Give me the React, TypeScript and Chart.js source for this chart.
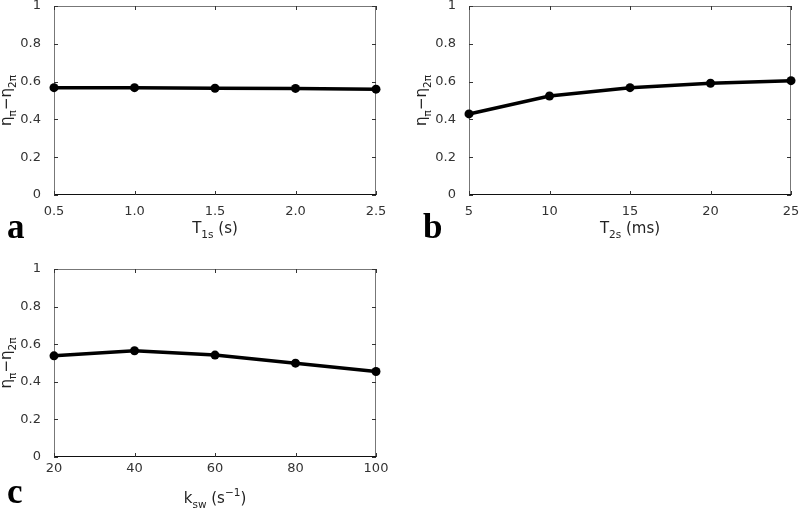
import React, { useEffect, useRef } from "react";
import { Chart, registerables } from "chart.js";
Chart.register(...registerables);

// ---- data ----
const aX = [0.5, 1.0, 1.5, 2.0, 2.5];
const aY = [0.568, 0.568, 0.565, 0.564, 0.56];
const bX = [5, 10, 15, 20, 25];
const bY = [0.429, 0.524, 0.568, 0.591, 0.605];
const cX = [20, 40, 60, 80, 100];
const cY = [0.538, 0.565, 0.542, 0.499, 0.455];
const yTickValues = [0, 0.2, 0.4, 0.6, 0.8, 1];
const yTickLabels = ["0", "0.2", "0.4", "0.6", "0.8", "1"];

type Part = { t: string; sub?: boolean; sup?: boolean };

const FONT = "'DejaVu Sans', 'Liberation Sans', Arial, sans-serif";

function partsWidth(ctx: CanvasRenderingContext2D, parts: Part[], size: number) {
  let w = 0;
  for (const p of parts) {
    const s = p.sub || p.sup ? size * 0.7 : size;
    ctx.font = `${s}px ${FONT}`;
    w += ctx.measureText(p.t).width;
  }
  return w;
}

function drawParts(ctx: CanvasRenderingContext2D, parts: Part[], x: number, y: number, size: number) {
  const w = partsWidth(ctx, parts, size);
  let cx = x - w / 2;
  ctx.textAlign = "left";
  ctx.textBaseline = "alphabetic";
  for (const p of parts) {
    const s = p.sub || p.sup ? size * 0.7 : size;
    ctx.font = `${s}px ${FONT}`;
    const dy = p.sub ? size * 0.35 : p.sup ? -size * 0.45 : 0;
    ctx.fillText(p.t, cx, y + dy);
    cx += ctx.measureText(p.t).width;
  }
}

const yTitle: Part[] = [
  { t: "η" },
  { t: "π", sub: true },
  { t: "−η" },
  { t: "2π", sub: true },
];

type PanelCfg = {
  xs: number[];
  ys: number[];
  xmin: number;
  xmax: number;
  step: number;
  decimals: number;
  xTitle: Part[];
  letter: string;
  left: number;
  top: number;
  width: number;
  height: number;
  yWidth: number;
  padTop: number;
  padRight: number;
  xHeight: number;
  xTickPad: number;
  xTitleOffset: number;
  letterX: number;
  letterY: number;
};

const panels: PanelCfg[] = [
  {
    xs: aX, ys: aY, xmin: 0.5, xmax: 2.5, step: 0.5, decimals: 1,
    xTitle: [{ t: "T" }, { t: "1s", sub: true }, { t: " (s)" }],
    letter: "a",
    left: 0, top: -4, width: 400, height: 260,
    yWidth: 54, padTop: 10, padRight: 24, xHeight: 61, xTickPad: 1, xTitleOffset: 38,
    letterX: 7, letterY: 242,
  },
  {
    xs: bX, ys: bY, xmin: 5, xmax: 25, step: 5, decimals: 0,
    xTitle: [{ t: "T" }, { t: "2s", sub: true }, { t: " (ms)" }],
    letter: "b",
    left: 400, top: -4, width: 400, height: 260,
    yWidth: 69, padTop: 10, padRight: 9, xHeight: 61, xTickPad: 1, xTitleOffset: 38,
    letterX: 23, letterY: 242,
  },
  {
    xs: cX, ys: cY, xmin: 20, xmax: 100, step: 20, decimals: 0,
    xTitle: [{ t: "k" }, { t: "sw", sub: true }, { t: " (s" }, { t: "−1", sup: true }, { t: ")" }],
    letter: "c",
    left: 0, top: 255, width: 400, height: 258,
    yWidth: 54, padTop: 14, padRight: 24, xHeight: 56, xTickPad: -4, xTitleOffset: 46,
    letterX: 7, letterY: 248,
  },
];

function Panel({ cfg }: { cfg: PanelCfg }) {
  const ref = useRef<HTMLCanvasElement>(null);
  useEffect(() => {
    if (!ref.current) return;
    const framePlugin = {
      id: "frame" + cfg.letter,
      beforeDatasetsDraw(chart: any) {
        const ctx = chart.ctx as CanvasRenderingContext2D;
        const { left, right, top, bottom } = chart.chartArea;
        const xs = chart.scales.x;
        const ys = chart.scales.y;
        ctx.save();
        ctx.lineWidth = 1;
        ctx.strokeStyle = "#777";
        ctx.beginPath();
        ctx.moveTo(left + 0.5, bottom);
        ctx.lineTo(left + 0.5, top + 0.5);
        ctx.lineTo(right - 0.5, top + 0.5);
        ctx.lineTo(right - 0.5, bottom);
        ctx.stroke();
        ctx.strokeStyle = "#111";
        ctx.beginPath();
        ctx.moveTo(left, bottom - 0.5);
        ctx.lineTo(right, bottom - 0.5);
        ctx.stroke();
        ctx.strokeStyle = "#333";
        const tl = 4;
        for (let v = cfg.xmin; v <= cfg.xmax + 1e-9; v += cfg.step) {
          const px = Math.round(xs.getPixelForValue(v)) + 0.5;
          ctx.beginPath();
          ctx.moveTo(px, bottom);
          ctx.lineTo(px, bottom - tl);
          ctx.moveTo(px, top);
          ctx.lineTo(px, top + tl);
          ctx.stroke();
        }
        for (const v of yTickValues) {
          const py = Math.round(ys.getPixelForValue(v)) + 0.5;
          ctx.beginPath();
          ctx.moveTo(left, py);
          ctx.lineTo(left + tl, py);
          ctx.moveTo(right, py);
          ctx.lineTo(right - tl, py);
          ctx.stroke();
        }
        ctx.restore();
      },
      afterDraw(chart: any) {
        const ctx = chart.ctx as CanvasRenderingContext2D;
        const { left, right, top, bottom } = chart.chartArea;
        ctx.save();
        ctx.fillStyle = "#222";
        drawParts(ctx, cfg.xTitle, (left + right) / 2, bottom + cfg.xTitleOffset, 15);
        ctx.save();
        ctx.translate(left - 43, (top + bottom) / 2);
        ctx.rotate(-Math.PI / 2);
        drawParts(ctx, yTitle, 0, 0, 15);
        ctx.restore();
        ctx.fillStyle = "#000";
        ctx.font = `bold 35px 'Liberation Serif', 'DejaVu Serif', serif`;
        ctx.textAlign = "left";
        ctx.textBaseline = "alphabetic";
        ctx.fillText(cfg.letter, cfg.letterX, cfg.letterY);
        ctx.restore();
      },
    };

    const chart = new Chart(ref.current, {
      type: "line",
      data: {
        datasets: [
          {
            data: cfg.xs.map((x, i) => ({ x, y: cfg.ys[i] })),
            borderColor: "#000",
            backgroundColor: "#000",
            borderWidth: 3.5,
            pointRadius: 4.5,
            pointBackgroundColor: "#000",
            pointBorderColor: "#000",
            pointBorderWidth: 0,
            tension: 0,
            clip: false as any,
          },
        ],
      },
      options: {
        responsive: false,
        animation: false,
        devicePixelRatio: 1,
        layout: { padding: { left: 0, right: cfg.padRight, top: cfg.padTop, bottom: 0 } },
        plugins: { legend: { display: false }, tooltip: { enabled: false } },
        scales: {
          x: {
            type: "linear",
            min: cfg.xmin,
            max: cfg.xmax,
            grid: { display: false },
            border: { display: false },
            ticks: {
              stepSize: cfg.step,
              padding: cfg.xTickPad,
              color: "#333",
              font: { family: FONT, size: 13 },
              maxRotation: 0,
              autoSkip: false,
              callback: (v: any) => Number(v).toFixed(cfg.decimals),
            },
            afterFit: (s: any) => {
              s.height = cfg.xHeight;
              s.paddingLeft = 0;
              s.paddingRight = 0;
            },
          },
          y: {
            type: "linear",
            min: 0,
            max: 1,
            grid: { display: false },
            border: { display: false },
            ticks: {
              stepSize: 0.2,
              padding: 5,
              color: "#333",
              font: { family: FONT, size: 13 },
              callback: (v: any) => {
                const i = yTickValues.findIndex((t) => Math.abs(t - Number(v)) < 1e-6);
                return i >= 0 ? yTickLabels[i] : "";
              },
            },
            afterFit: (s: any) => {
              s.width = cfg.yWidth;
              s.paddingTop = 0;
              s.paddingBottom = 0;
            },
          },
        },
      },
      plugins: [framePlugin as any],
    });
    return () => chart.destroy();
  }, []);
  return (
    <canvas
      ref={ref}
      width={cfg.width}
      height={cfg.height}
      style={{ position: "absolute", left: cfg.left, top: cfg.top, width: cfg.width, height: cfg.height }}
    />
  );
}

export default function App() {
  return (
    <div
      style={{
        position: "fixed",
        left: 0,
        top: 0,
        width: 800,
        height: 513,
        background: "#fff",
        overflow: "hidden",
      }}
    >
      {panels.map((p) => (
        <Panel key={p.letter} cfg={p} />
      ))}
    </div>
  );
}
